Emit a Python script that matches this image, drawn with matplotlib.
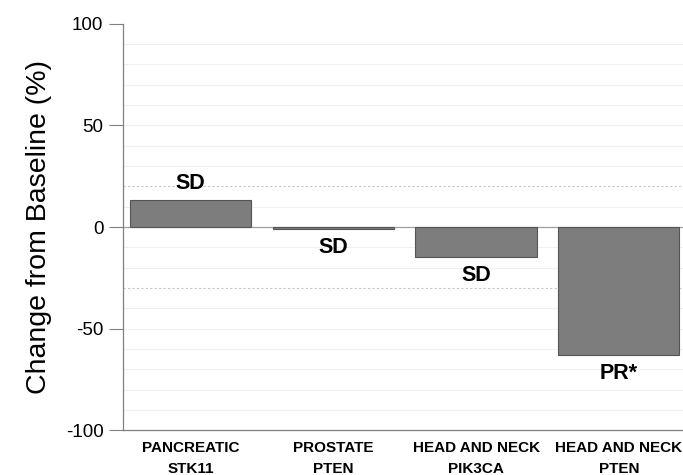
import matplotlib
matplotlib.use("Agg")
import matplotlib.pyplot as plt
import numpy as np

plt.rcParams['font.family'] = ['Liberation Sans', 'DejaVu Sans']

categories = ["PANCREATIC\nSTK11", "PROSTATE\nPTEN", "HEAD AND NECK\nPIK3CA", "HEAD AND NECK\nPTEN"]
changes = [13.5, -1.0, -14.5, -63.0]
responses = ["SD", "SD", "SD", "PR*"]
y_ticks = [-100, -50, 0, 50, 100]

fig = plt.figure(figsize=(6.83, 4.75), dpi=100)
ax = fig.add_axes([0.18, 0.094, 0.82, 0.856])

x = np.arange(len(categories))

# grid lines every 10 %
for g in range(-90, 100, 10):
    if g in (20, -30, 0):
        continue
    ax.axhline(g, color="#f0f0f0", lw=0.8, zorder=0)
ax.axhline(20, color="#c8c8c8", lw=0.8, ls=(0, (2, 2)), zorder=0)
ax.axhline(-30, color="#c8c8c8", lw=0.8, ls=(0, (2, 2)), zorder=0)
ax.axhline(0, color="#a0a0a0", lw=0.9, zorder=1)

ax.bar(x, changes, width=0.85, color="#7d7d7d", edgecolor="#555555", linewidth=0.8, zorder=2)

for xi, v, lab in zip(x, changes, responses):
    if v > 0:
        ax.text(xi, v + 3, lab, ha="center", va="bottom", fontsize=15.5, fontweight="bold")
    else:
        ax.text(xi, v - 4, lab, ha="center", va="top", fontsize=15.5, fontweight="bold")

ax.set_xlim(-0.475, 3.45)
ax.set_ylim(-100, 100)
ax.set_yticks(y_ticks)
ax.set_yticklabels([str(t) for t in y_ticks], fontsize=13.5)
ax.set_xticks(x)
ax.set_xticklabels(categories, fontsize=11, fontweight="bold", linespacing=1.55)
ax.tick_params(axis="x", length=0, pad=8)
ax.tick_params(axis="y", length=10, color="#808080", width=0.8, pad=4)
ax.set_ylabel("Change from Baseline (%)", fontsize=20.5, labelpad=10)

for s in ("top", "right"):
    ax.spines[s].set_visible(False)
for s in ("left", "bottom"):
    ax.spines[s].set_color("#808080")
    ax.spines[s].set_linewidth(0.9)

fig.savefig("out.png", dpi=100)
